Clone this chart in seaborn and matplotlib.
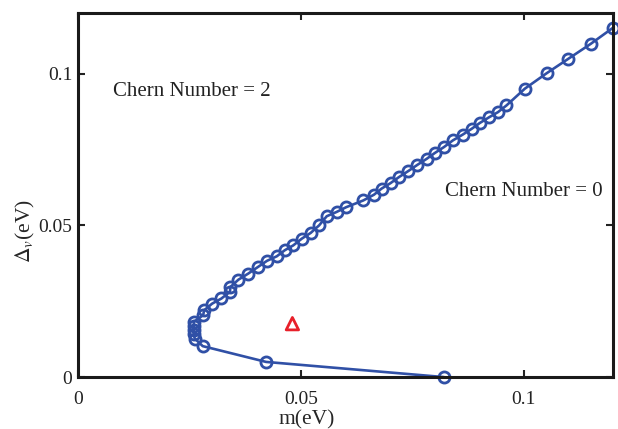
import matplotlib
matplotlib.use("Agg")
import matplotlib.pyplot as plt
import seaborn as sns
import pandas as pd

# boundary curve (m, Delta_v) in eV
m_vals = [0.0821, 0.0422, 0.0280, 0.0262, 0.0260, 0.0260, 0.0260, 0.0260,
          0.0281, 0.0283, 0.0301, 0.0322, 0.0341, 0.0342, 0.0360, 0.0382,
          0.0404, 0.0424, 0.0446, 0.0464, 0.0483, 0.0502, 0.0522, 0.0541,
          0.0558, 0.0580, 0.0602, 0.0640, 0.0664, 0.0681, 0.0701, 0.0720,
          0.0741, 0.0761, 0.0782, 0.0800, 0.0821, 0.0841, 0.0863, 0.0883,
          0.0901, 0.0922, 0.0942, 0.0961, 0.1002, 0.1051, 0.1099, 0.1150,
          0.1199]
delta_vals = [0.0000, 0.0050, 0.0102, 0.0127, 0.0141, 0.0155, 0.0168, 0.0182,
              0.0204, 0.0220, 0.0242, 0.0259, 0.0281, 0.0297, 0.0321, 0.0341,
              0.0363, 0.0383, 0.0398, 0.0418, 0.0434, 0.0456, 0.0475, 0.0500,
              0.0530, 0.0544, 0.0560, 0.0582, 0.0601, 0.0621, 0.0639, 0.0659,
              0.0679, 0.0699, 0.0719, 0.0738, 0.0758, 0.0780, 0.0799, 0.0818,
              0.0837, 0.0856, 0.0873, 0.0895, 0.0950, 0.1001, 0.1048, 0.1098,
              0.1150]

# single marked point
tri_m = [0.0481]
tri_delta = [0.0176]

x_ticks = [0, 0.05, 0.1]
x_ticklabels = ["0", "0.05", "0.1"]
y_ticks = [0, 0.05, 0.1]
y_ticklabels = ["0", "0.05", "0.1"]

labels = ["Chern Number = 2", "Chern Number = 0"]

sns.set_style("ticks")
plt.rcParams["font.family"] = ["Liberation Serif", "DejaVu Serif"]
plt.rcParams["mathtext.fontset"] = "stix"

df = pd.DataFrame({"m": m_vals, "d": delta_vals})
dft = pd.DataFrame({"m": tri_m, "d": tri_delta})

fig = plt.figure(figsize=(6.18, 4.29), dpi=100)
ax = fig.add_axes([0.126, 0.121, 0.866, 0.849])

blue = "#3050A6"
sns.lineplot(data=df, x="m", y="d", sort=False, ax=ax, color=blue,
             linewidth=1.9, marker="o", markersize=8, markerfacecolor="none",
             markeredgecolor=blue, markeredgewidth=2.0, estimator=None,
             clip_on=False)
sns.scatterplot(data=dft, x="m", y="d", ax=ax, marker="^", s=80,
                facecolor="none", edgecolor="#E8202A", linewidth=2.0)

ax.set_xlim(0, 0.12)
ax.set_ylim(0, 0.12)
ax.set_xticks(x_ticks)
ax.set_xticklabels(x_ticklabels)
ax.set_yticks(y_ticks)
ax.set_yticklabels(y_ticklabels)
ax.tick_params(direction="in", length=5, width=1.5, labelsize=14,
               top=True, right=True, colors="#222222", pad=10)
ax.tick_params(axis="y", pad=4)
for s in ax.spines.values():
    s.set_linewidth(2.2)
    s.set_color("#1a1a1a")
    s.set_visible(True)

ax.set_xlabel("m(eV)", fontsize=15.5)
ax.set_ylabel(r"$\Delta_v$(eV)", fontsize=15.5)
ax.xaxis.set_label_coords(0.427, -0.092)
ax.yaxis.set_label_coords(-0.077, 0.40)

ax.text(0.0078, 0.094, labels[0], fontsize=15, va="center", ha="left",
        color="#222222")
ax.text(0.0823, 0.0612, labels[1], fontsize=15, va="center", ha="left",
        color="#222222")

fig.savefig("out.png", dpi=100)
